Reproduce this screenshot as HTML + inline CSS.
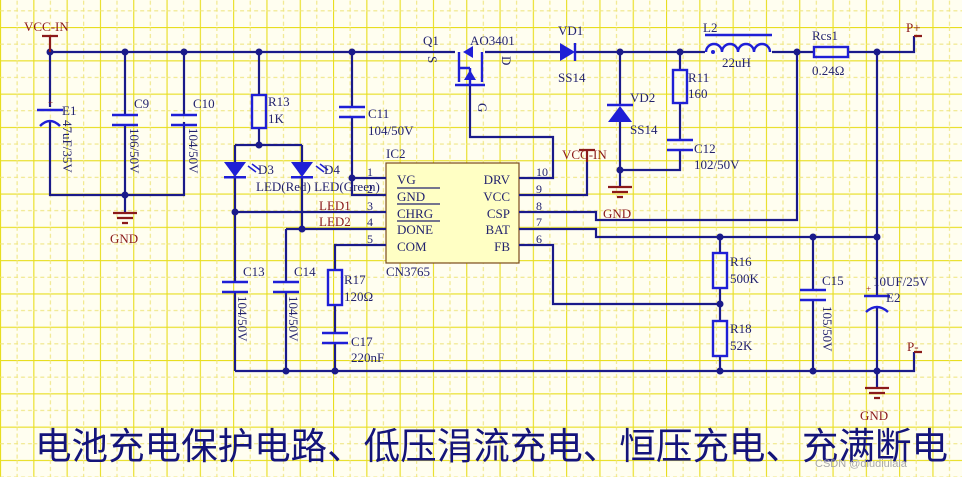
<!DOCTYPE html>
<html><head><meta charset="utf-8"><style>
html,body{margin:0;padding:0;background:#fffef0;}
svg{display:block;}
text{font-family:"Liberation Serif","Noto Serif CJK SC",serif;font-size:13px;fill:#23236e;}
.r{fill:#8b1a1a;}
.w{stroke:#1a1a8a;stroke-width:2.2;fill:none;}
.c{stroke:#1f1fd6;stroke-width:2.4;fill:none;}
.g{stroke:#8b1a1a;stroke-width:2.2;fill:none;}
</style></head><body>
<svg width="962" height="477" viewBox="0 0 962 477" xmlns="http://www.w3.org/2000/svg">
<defs>
<pattern id="gp" width="33.3" height="33.3" patternUnits="userSpaceOnUse" x="0" y="27">
<line x1="0.5" y1="0" x2="0.5" y2="33.3" stroke="#e8de20" stroke-width="1.2"/>
<line x1="0" y1="0.5" x2="33.3" y2="0.5" stroke="#e8de20" stroke-width="1.2"/>
<line x1="17.1" y1="0" x2="17.1" y2="33.3" stroke="#eee47a" stroke-width="1" stroke-dasharray="4,3"/>
<line x1="0" y1="17.1" x2="33.3" y2="17.1" stroke="#eee47a" stroke-width="1" stroke-dasharray="4,3"/>
</pattern>
</defs>
<rect width="962" height="477" fill="#fffef0"/>
<rect width="962" height="477" fill="url(#gp)"/>

<rect x="386" y="163" width="133" height="100" fill="#ffffc4" stroke="#7a4a1a" stroke-width="1.2"/>

<g class="w">
<path d="M50 52H455M485 52H560M575 52H705M772 52H814M848 52H914V36"/>
<path d="M50 52V107M50 122V195H184V122M125 52V115M125 125V195M184 52V115M125 195V213"/>
<path d="M259 52V95M259 128V145M235 145H302M235 145V162M302 145V162M235 177V282M235 292V371M302 177V229"/>
<path d="M235 212H386M286 229H386M286 229V282M286 292V371"/>
<path d="M352 52V107M352 117V195H386M352 178H386"/>
<path d="M386 245H335V270M335 305V333M335 343V371"/>
<path d="M235 371H914V352"/>
<path d="M470 85V137H553V178H519M519 195H587V162M519 212H596V220H797V52M519 229H596V237H877M519 245H553V304H720"/>
<path d="M620 52V105M620 122V170H680V150M680 140V103M680 70V52M620 170V187"/>
<path d="M720 237V253M720 288V321M720 355V371M813 237V290M813 300V371M877 52V296M877 307V388"/>
</g>
<g fill="#1a1a8a">
<circle cx="50" cy="52" r="3.5"/><circle cx="125" cy="52" r="3.5"/><circle cx="184" cy="52" r="3.5"/><circle cx="259" cy="52" r="3.5"/><circle cx="352" cy="52" r="3.5"/>
<circle cx="125" cy="195" r="3.5"/><circle cx="259" cy="145" r="3.5"/><circle cx="235" cy="212" r="3.5"/><circle cx="302" cy="229" r="3.5"/><circle cx="352" cy="178" r="3.5"/>
<circle cx="286" cy="371" r="3.5"/><circle cx="335" cy="371" r="3.5"/><circle cx="720" cy="371" r="3.5"/><circle cx="813" cy="371" r="3.5"/><circle cx="877" cy="371" r="3.5"/>
<circle cx="720" cy="237" r="3.5"/><circle cx="813" cy="237" r="3.5"/><circle cx="877" cy="237" r="3.5"/><circle cx="720" cy="304" r="3.5"/>
<circle cx="620" cy="52" r="3.5"/><circle cx="680" cy="52" r="3.5"/><circle cx="797" cy="52" r="3.5"/><circle cx="877" cy="52" r="3.5"/><circle cx="620" cy="170" r="3.5"/>
</g>
<g class="c">
<path d="M37 110H63M40 126Q50 116 60 126"/>
<path d="M112 115H138M112 125H138M171 115H197M171 125H197"/>
<rect x="252" y="95" width="14" height="33"/>
<path d="M339 107H365M339 117H365"/>
<path d="M222 282H248M222 292H248M273 282H299M273 292H299"/>
<rect x="328" y="270" width="14" height="35"/>
<path d="M322 333H348M322 343H348"/>
<rect x="713" y="253" width="14" height="35"/><rect x="713" y="321" width="14" height="35"/>
<path d="M800 290H826M800 300H826M864 296H890M866 312Q877 302 888 312"/>
<rect x="814" y="47" width="34" height="10"/>
<path d="M705 35H772"/>
<path d="M706 52a8 8 0 0 1 16 0a8 8 0 0 1 16 0a8 8 0 0 1 16 0a8 8 0 0 1 16 0"/>
<path d="M575 43V61M607 105H633"/>
<rect x="673" y="70" width="14" height="33"/>
<path d="M667 140H693M667 150H693"/>
<path d="M459 52V82M482 52V82M455 85H485M470 85V68M470 68H459"/>
</g>
<g fill="#1f1fd6">
<polygon points="560,43 560,61 575,52"/>
<polygon points="620,106 608,122 632,122"/>
<polygon points="224,162 246,162 235,177"/><rect x="224" y="176" width="22" height="2.5"/>
<polygon points="291,162 313,162 302,177"/><rect x="291" y="176" width="22" height="2.5"/>
<polygon points="470,70 464,80 476,80"/>
<polygon points="463,52 473,46 473,58"/>
<circle cx="713" cy="52" r="2"/>
</g>
<path d="M248 166l8 6M252 164l8 6M316 166l8 6M320 164l8 6" stroke="#1f1fd6" stroke-width="1.5"/>
<g class="g">
<path d="M50 36V52M42 36H58M587 162V150M579 150H595M914 36H922M914 352H922"/>
<path d="M113 213H137M117 218H133M122 223H128"/>
<path d="M608 187H632M612 192H628M617 197H623"/>
<path d="M865 388H889M869 393H885M874 398H880"/>
</g>
<text x="24" y="31" class="r">VCC-IN</text>
<text x="562" y="159" class="r">VCC-IN</text>
<text x="110" y="243" class="r">GND</text>
<text x="603" y="218" class="r">GND</text>
<text x="860" y="420" class="r">GND</text>
<text x="906" y="32" class="r">P+</text>
<text x="907" y="351" class="r">P-</text>
<text x="48" y="106" class="r" style="font-size:9px">+</text>
<text x="866" y="292" class="r" style="font-size:9px">+</text>
<text x="62" y="115">E1</text>
<text transform="translate(63,120) rotate(90)">47uF/35V</text>
<text x="134" y="108">C9</text>
<text transform="translate(130,128) rotate(90)">106/50V</text>
<text x="193" y="108">C10</text>
<text transform="translate(189,128) rotate(90)">104/50V</text>
<text x="268" y="106">R13</text><text x="268" y="123">1K</text>
<text x="368" y="118">C11</text><text x="368" y="135">104/50V</text>
<text x="386" y="158">IC2</text>
<text x="258" y="174">D3</text><text x="324" y="174">D4</text>
<text x="256" y="191">LED(Red) LED(Green)</text>
<text x="319" y="210" class="r">LED1</text><text x="319" y="226" class="r">LED2</text>
<text x="367" y="176" style="font-size:12px">1</text><text x="367" y="193" style="font-size:12px">2</text><text x="367" y="210" style="font-size:12px">3</text><text x="367" y="226" style="font-size:12px">4</text><text x="367" y="243" style="font-size:12px">5</text>
<text x="536" y="176" style="font-size:12px">10</text><text x="536" y="193" style="font-size:12px">9</text><text x="536" y="210" style="font-size:12px">8</text><text x="536" y="226" style="font-size:12px">7</text><text x="536" y="243" style="font-size:12px">6</text>
<text x="397" y="184">VG</text><text x="397" y="201">GND</text><text x="397" y="218">CHRG</text><text x="397" y="234">DONE</text><text x="397" y="251">COM</text>
<path d="M397 188H440M397 204H440M397 221H440" stroke="#23236e" stroke-width="1.3"/>
<text x="510" y="184" text-anchor="end">DRV</text><text x="510" y="201" text-anchor="end">VCC</text><text x="510" y="218" text-anchor="end">CSP</text><text x="510" y="234" text-anchor="end">BAT</text><text x="510" y="251" text-anchor="end">FB</text>
<text x="386" y="276">CN3765</text>
<text x="243" y="276">C13</text><text x="294" y="276">C14</text>
<text transform="translate(238,296) rotate(90)">104/50V</text>
<text transform="translate(289,296) rotate(90)">104/50V</text>
<text x="344" y="284">R17</text><text x="344" y="301">120Ω</text>
<text x="351" y="346">C17</text><text x="351" y="362">220nF</text>
<text x="730" y="266">R16</text><text x="730" y="283">500K</text>
<text x="730" y="333">R18</text><text x="730" y="350">52K</text>
<text x="822" y="285">C15</text>
<text transform="translate(823,306) rotate(90)">105/50V</text>
<text x="873" y="286">10UF/25V</text><text x="886" y="302">E2</text>
<text x="423" y="45">Q1</text><text x="470" y="45">AO3401</text>
<text transform="translate(428,56) rotate(90)">S</text>
<text transform="translate(502,56) rotate(90)">D</text>
<text transform="translate(478,103) rotate(90)">G</text>
<text x="558" y="35">VD1</text><text x="558" y="82">SS14</text>
<text x="630" y="102">VD2</text><text x="630" y="134">SS14</text>
<text x="688" y="82">R11</text><text x="688" y="98">160</text>
<text x="694" y="153">C12</text><text x="694" y="169">102/50V</text>
<text x="703" y="32">L2</text><text x="722" y="67">22uH</text>
<text x="812" y="40">Rcs1</text><text x="812" y="75">0.24Ω</text>
<text x="35" y="459" textLength="913" lengthAdjust="spacingAndGlyphs" style="font-family:'Noto Sans CJK SC',sans-serif;font-size:37px;fill:#14147a;">电池充电保护电路、低压涓流充电、恒压充电、充满断电</text>
<text x="815" y="467" style="font-family:'Liberation Sans',sans-serif;font-size:11px;fill:#a8a8a8;">CSDN @diudiulala</text>
</svg>
</body></html>
